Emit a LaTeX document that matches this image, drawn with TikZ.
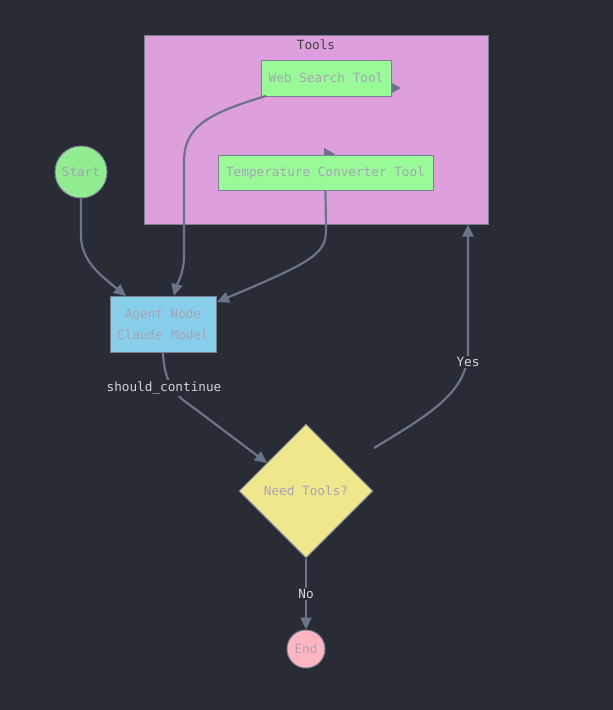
\documentclass[tikz,border=0pt]{standalone}
\usepackage{fontspec}
\setmainfont{DejaVu Sans Mono}
\usetikzlibrary{shapes.geometric, arrows.meta}
\definecolor{bg}{HTML}{282C34}
\definecolor{edgecol}{HTML}{6B7489}
\definecolor{nodeline}{HTML}{7A7F90}
\definecolor{nodetext}{HTML}{A8A4B4}
\definecolor{lbltext}{HTML}{D0D4E0}
\definecolor{plum}{HTML}{DDA0DD}
\definecolor{palegreen}{HTML}{98FB98}
\definecolor{lightgreen}{HTML}{90EE90}
\definecolor{skyblue}{HTML}{87CEEB}
\definecolor{khaki}{HTML}{F0E68C}
\definecolor{lightpink}{HTML}{FFB6C1}

\begin{document}
\begin{tikzpicture}[x=1pt, y=-1pt,
    box/.style={draw=nodeline, line width=1pt, text=nodetext, inner sep=0pt,
        font=\fontsize{12.7}{21}\selectfont},
    edge/.style={draw=edgecol, line width=2.2pt, -{Triangle[length=12pt, width=11pt]}},
    lbl/.style={fill=bg, text=lbltext, inner sep=1.5pt, font=\fontsize{12.7}{15}\selectfont}]
    \useasboundingbox[fill=bg] (0, 0) rectangle (613, 710);

    % tools cluster
    \node[draw=nodeline, fill=plum, line width=1pt, minimum width=344pt, minimum height=189pt, inner sep=0pt] (tools) at (316, 129.5) {};
    \node[text=black!75, font=\fontsize{12.7}{15}\selectfont] (toolslabel) at (316, 45) {Tools};
    \fill[edgecol] (392, 83) -- (401, 88) -- (392, 93) -- cycle;
    \fill[edgecol] (324, 148) -- (335, 154) -- (324, 160) -- cycle;
    \node[box, fill=palegreen, minimum width=130pt, minimum height=36pt] (web) at (326, 78) {Web Search Tool};
    \node[box, fill=palegreen, minimum width=215pt, minimum height=35pt] (temp) at (325.5, 172.5) {Temperature Converter Tool};

    % main nodes
    \node[box, circle, fill=lightgreen, minimum size=52pt] (start) at (81, 172) {Start};
    \node[box, fill=skyblue, minimum width=106pt, minimum height=56pt, align=center] (agent) at (163, 324) {Agent Node\\Claude Model};
    \node[box, diamond, fill=khaki, minimum width=134pt, minimum height=134pt, aspect=1] (decide) at (306, 491) {Need Tools?};
    \node[box, circle, fill=lightpink, minimum size=38pt] (end) at (306, 649) {End};
    \coordinate (yesstart) at (374, 448);

    % edges
    \draw[edge] (start.south) -- (81, 236) .. controls (81, 262) and (104, 278) .. (126, 296);
    \draw[edge] (266, 96) .. controls (205, 114) and (184, 128) .. (184, 162) -- (184, 255) .. controls (184, 274) and (177, 284) .. (174, 296);
    \draw[edge] (temp.south) -- (326, 230) .. controls (326, 254) and (312, 262) .. (217, 302);
    \draw[edge] (agent.south) .. controls (164, 376) and (170, 392) .. (190, 405) -- (267, 463);
    \draw[edge] (yesstart) .. controls (430, 414) and (468, 392) .. (468, 350) -- (tools.south -| 468, 0);
    \draw[edge] (decide.south) -- (end.north);

    % edge labels
    \node[lbl] (lcont) at (164, 388) {should\_continue};
    \node[lbl] (lyes) at (468, 362) {Yes};
    \node[lbl] (lno) at (306, 594) {No};
\end{tikzpicture}
\end{document}
